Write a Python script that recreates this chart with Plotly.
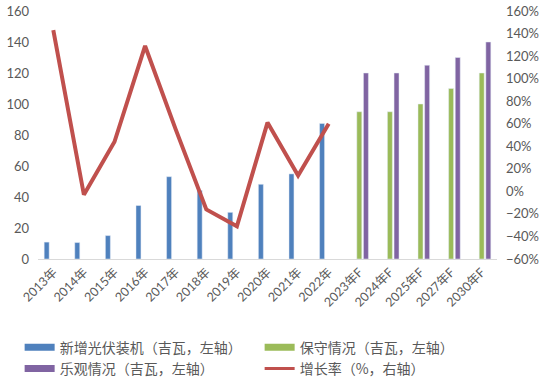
import plotly.graph_objects as go

years = ["2013年", "2014年", "2015年", "2016年", "2017年", "2018年", "2019年", "2020年",
         "2021年", "2022年", "2023年F", "2024年F", "2025年F", "2027年F", "2030年F"]
new_install = [10.9, 10.6, 15.1, 34.5, 53.1, 44.3, 30.1, 48.2, 54.9, 87.4,
               None, None, None, None, None]
conservative = [None] * 10 + [95, 95, 100, 110, 120]
optimistic = [None] * 10 + [120, 120, 125, 130, 140]
growth = [143, -3, 44, 129, 55, -16, -31, 61, 14, 60,
          None, None, None, None, None]

names = ["新增光伏装机（吉瓦，左轴）", "保守情况（吉瓦，左轴）",
         "乐观情况（吉瓦，左轴）", "增长率（%，右轴）"]
c_blue, c_green, c_purple, c_red = "#4F81BD", "#9BBB59", "#8064A2", "#C0504D"
gray = "#595959"

fig = go.Figure()
for vals, col in [(new_install, c_blue), (conservative, c_green), (optimistic, c_purple)]:
    fig.add_trace(go.Bar(x=years, y=vals, marker_color=col, showlegend=False))
fig.add_trace(go.Scatter(x=years, y=growth, yaxis="y2", mode="lines",
                         line=dict(color=c_red, width=4), showlegend=False))

# legend entries (wide swatches like the original)
for nm, col, w in [(names[0], c_blue, 7), (names[1], c_green, 7),
                   (names[2], c_purple, 7), (names[3], c_red, 3)]:
    fig.add_trace(go.Scatter(x=[None], y=[None], mode="lines", name=nm,
                             line=dict(color=col, width=w), showlegend=True))

fig.update_layout(
    width=550, height=388,
    margin=dict(l=38, r=53, t=11, b=129, autoexpand=False),
    paper_bgcolor="white", plot_bgcolor="white",
    barmode="group", bargap=0.35, bargroupgap=0.25,
    font=dict(family="Lato, sans-serif", size=13, color=gray),
    xaxis=dict(type="category", tickangle=-45, showgrid=False, showline=True,
               linecolor="#D9D9D9", linewidth=1, ticks="", automargin=False,
               tickfont=dict(family="Lato, Noto Sans CJK SC", size=12.5, color=gray)),
    yaxis=dict(range=[0, 160], dtick=20, showgrid=False, zeroline=False, showline=False,
               automargin=False,
               ticks="", ticklabelstandoff=8, tickfont=dict(size=13, color=gray)),
    yaxis2=dict(range=[-60, 160], dtick=20, overlaying="y", side="right",
                showgrid=False, zeroline=False, showline=False, ticksuffix="%",
                automargin=False,
                ticks="", ticklabelstandoff=8, tickfont=dict(size=13, color=gray)),
    legend=dict(orientation="h", x=-0.04, xanchor="left", y=-0.293, yanchor="top",
                entrywidth=195, entrywidthmode="pixels", itemwidth=30,
                font=dict(family="Noto Sans CJK SC", size=14, color=gray),
                tracegroupgap=0, bgcolor="rgba(0,0,0,0)"),
)

fig.write_html("out.html", config={"displayModeBar": False},
               post_script="document.body.style.margin='0';")
